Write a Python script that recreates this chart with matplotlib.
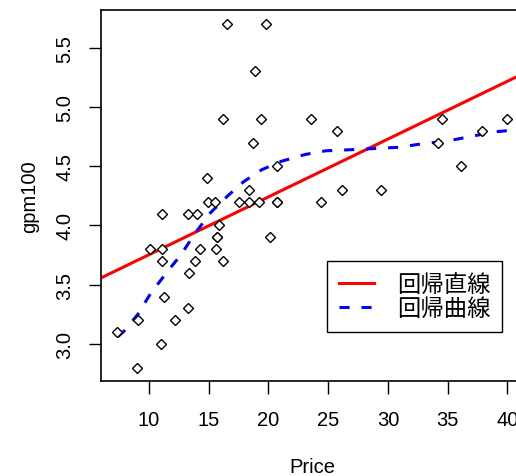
import matplotlib.pyplot as plt
import numpy as np

# scatter data: Price vs gpm100
price = [7.3, 9.0, 9.1, 10.1, 11.05, 11.1, 11.1, 11.1, 11.3, 12.2,
         13.3, 13.3, 13.4, 13.9, 14.0, 14.3, 14.85, 14.95, 15.5, 15.6,
         15.7, 15.7, 15.9, 16.2, 16.2, 16.5, 17.55, 18.35, 18.4, 18.7,
         18.9, 19.2, 19.4, 19.8, 20.1, 20.75, 20.75, 20.75, 23.6, 24.4,
         25.7, 26.2, 29.4, 34.2, 34.5, 36.1, 37.9, 40.0]
gpm100 = [3.1, 2.8, 3.2, 3.8, 3.0, 3.7, 3.8, 4.1, 3.4, 3.2,
          3.3, 4.1, 3.6, 3.7, 4.1, 3.8, 4.4, 4.2, 4.2, 3.8,
          3.9, 3.9, 4.0, 3.7, 4.9, 5.7, 4.2, 4.2, 4.3, 4.7,
          5.3, 4.2, 4.9, 5.7, 3.9, 4.2, 4.2, 4.5, 4.9, 4.2,
          4.8, 4.3, 4.3, 4.7, 4.9, 4.5, 4.8, 4.9]

# straight regression line
line_intercept = 3.265
line_slope = 0.0488

# smooth regression curve
curve_x = [7.39, 7.94, 9.08, 10.17, 11.09, 11.70, 12.67, 13.84, 15.18, 16.60,
           17.94, 19.44, 21.03, 23.12, 24.79, 27.04, 29.05, 30.97, 32.89,
           34.81, 36.90, 38.91, 40.0]
curve_y = [3.06, 3.11, 3.25, 3.43, 3.55, 3.63, 3.75, 3.93, 4.11, 4.25,
           4.37, 4.47, 4.54, 4.60, 4.63, 4.64, 4.65, 4.66, 4.69,
           4.71, 4.75, 4.79, 4.80]

xticks = [10, 15, 20, 25, 30, 35, 40]
yticks = [3.0, 3.5, 4.0, 4.5, 5.0, 5.5]
labels = ["回帰直線", "回帰曲線"]

W, H = 516, 477
fig = plt.figure(figsize=(W / 100, H / 100), dpi=100)
ax = fig.add_axes([101 / W, 1 - 382 / H, (523 - 101) / W, (382 - 11) / H])

xlim = (6.0, 41.3)
ax.set_xlim(*xlim)
ax.set_ylim(2.688, 5.818)

ax.plot(price, gpm100, linestyle='none', marker='D', markersize=5.0,
        markerfacecolor='white', markeredgecolor='black', markeredgewidth=1.0,
        zorder=3)

xx = np.array(xlim)
ax.plot(xx, line_intercept + line_slope * xx, color='red', lw=2.2,
        label=labels[0], zorder=2)
ax.plot(curve_x, curve_y, color='blue', lw=2.2, dashes=(3.3, 3.9),
        label=labels[1], zorder=2)

tick_font = dict(family='Liberation Sans', size=14.5)
ax.set_xticks(xticks)
ax.set_xticklabels([str(t) for t in xticks], **tick_font)
ax.set_yticks(yticks)
ax.set_yticklabels(["%.1f" % t for t in yticks], rotation=90, va='center',
                   **tick_font)
ax.tick_params(direction='out', length=9, width=1.0, color='black', pad=12)
ax.tick_params(axis='y', pad=10)

ax.set_xlabel("Price", fontsize=14.5, family='Liberation Sans', labelpad=20)
ax.set_ylabel("gpm100", fontsize=14.5, family='Liberation Sans', labelpad=12)

for s in ax.spines.values():
    s.set_linewidth(1.2)
    s.set_color('black')

leg = ax.legend(loc='upper left', bbox_to_anchor=(327 / W, 1 - 262 / H),
                bbox_transform=fig.transFigure, borderaxespad=0,
                prop=dict(family=['Noto Sans CJK JP', 'DejaVu Sans'], size=16.8),
                handlelength=1.5, handletextpad=1.0, labelspacing=0.05,
                borderpad=0.5, fancybox=False, framealpha=1)
leg.get_frame().set_edgecolor('black')
leg.get_frame().set_linewidth(1.0)

fig.savefig("out.png", dpi=100)
